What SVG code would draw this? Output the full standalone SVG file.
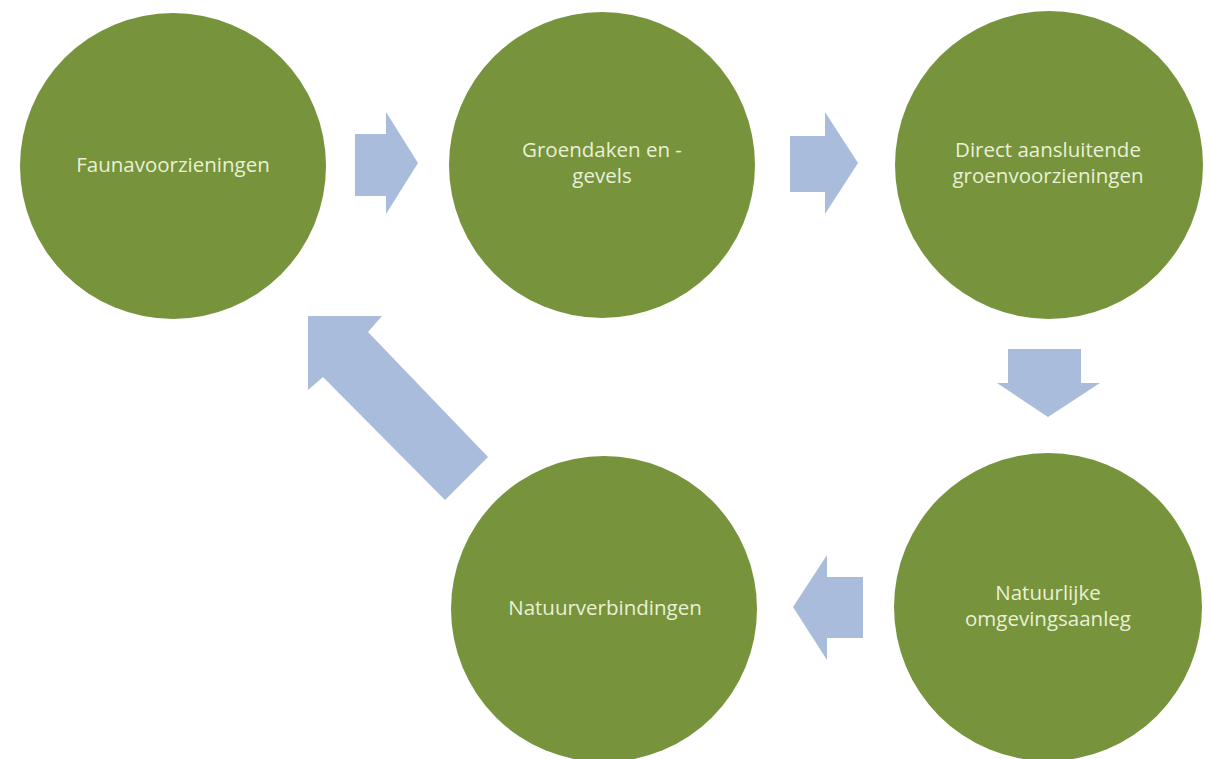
<svg xmlns="http://www.w3.org/2000/svg" width="1212" height="759" viewBox="0 0 1212 759">
<style>
.node{fill:#77933C;}
.lbl{font-family:"Open Sans","Liberation Sans",sans-serif;font-size:20.5px;fill:#E8F1D6;text-anchor:middle;}
.arr{fill:#A9BCDC;}
</style>
<rect width="1212" height="759" fill="#FFFFFF"/>
<g id="connectors">
<polygon class="arr" points="355,134 386,134 386,112 418,163 386,214 386,196 355,196"/>
<polygon class="arr" points="790,136 825,136 825,112 858,163 825,214 825,192 790,192"/>
<polygon class="arr" points="1008,349 1081,349 1081,383 1100,383 1048,417 997,383 1008,383"/>
<polygon class="arr" points="863,577 863,638 827,638 827,660 793,607 827,555 827,577"/>
<polygon class="arr" points="308,316 382,316 368,332 488,457 445,500 323,377 308,390"/>
</g>
<g id="n1">
<circle class="node" cx="173" cy="166" r="153"/>
<text class="lbl" x="173" y="172">Faunavoorzieningen</text>
</g>
<g id="n2">
<circle class="node" cx="602" cy="165" r="153"/>
<text class="lbl" x="602" y="157">Groendaken en -</text>
<text class="lbl" x="602" y="183">gevels</text>
</g>
<g id="n3">
<circle class="node" cx="1049" cy="165" r="154"/>
<text class="lbl" x="1048" y="157">Direct aansluitende</text>
<text class="lbl" x="1048" y="183">groenvoorzieningen</text>
</g>
<g id="n4">
<circle class="node" cx="1048" cy="607" r="154"/>
<text class="lbl" x="1048" y="600">Natuurlijke</text>
<text class="lbl" x="1048" y="626">omgevingsaanleg</text>
</g>
<g id="n5">
<circle class="node" cx="604" cy="609" r="153"/>
<text class="lbl" x="605" y="615">Natuurverbindingen</text>
</g>
</svg>
